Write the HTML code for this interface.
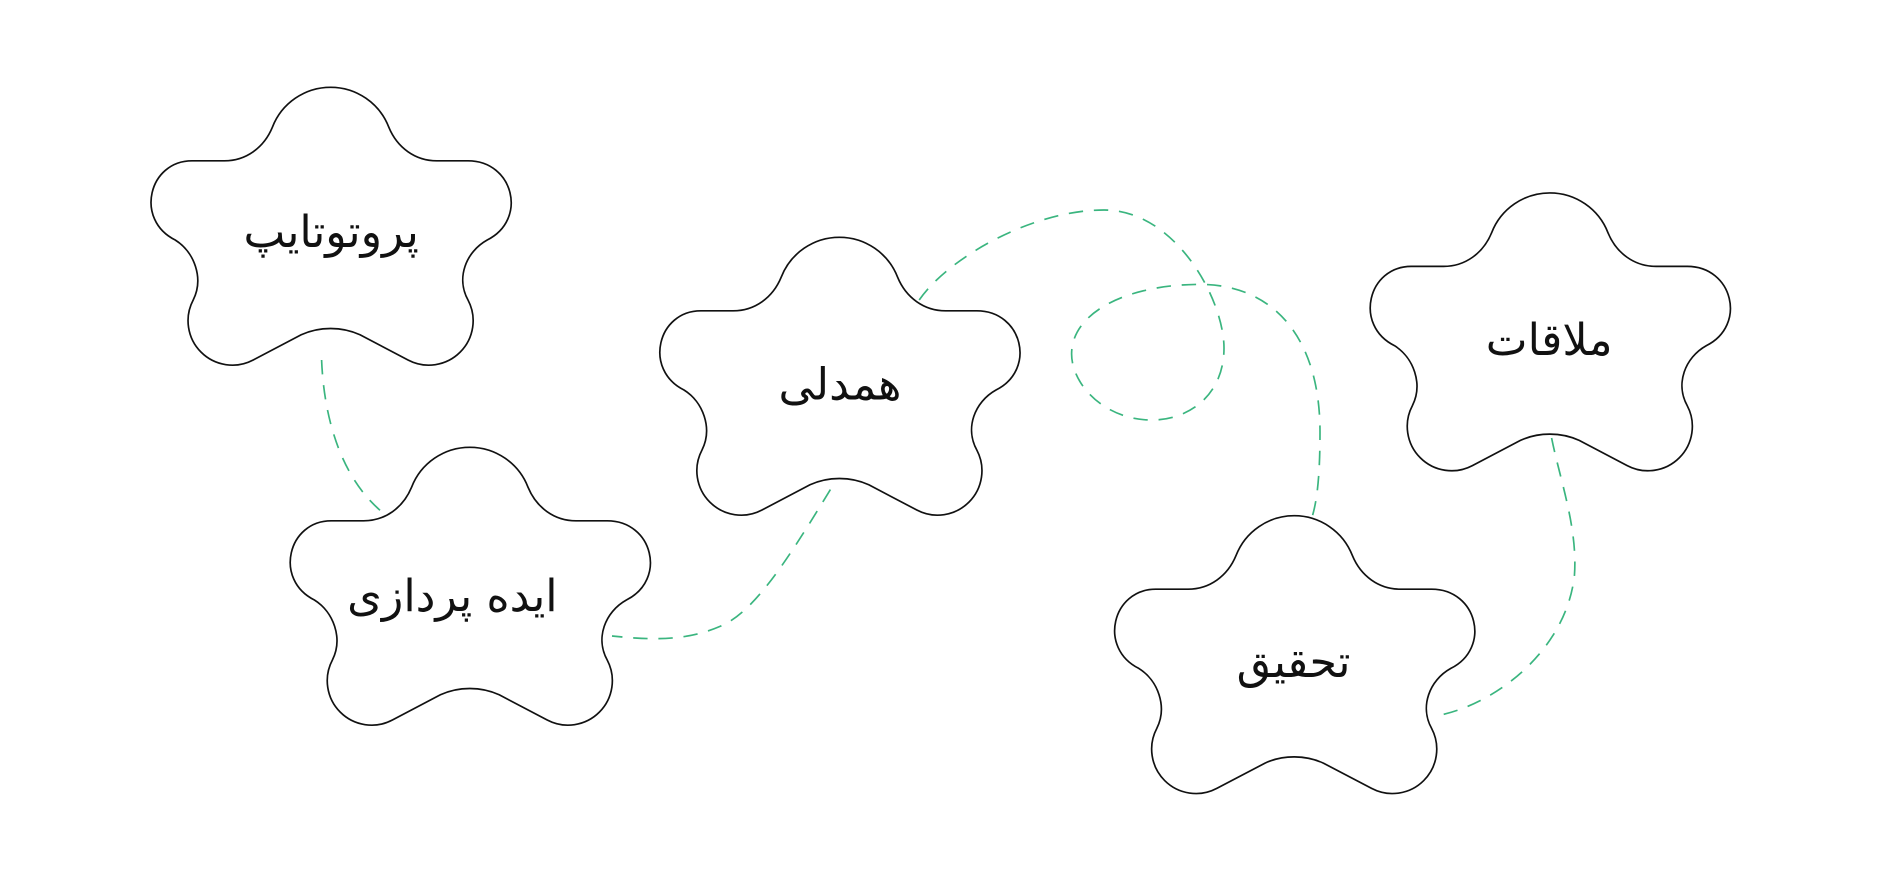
<!DOCTYPE html>
<html><head><meta charset="utf-8"><style>
html,body{margin:0;padding:0;background:#fff;}
svg{display:block;}
text{font-family:"DejaVu Sans","Liberation Sans",sans-serif;font-size:37px;fill:#111;text-anchor:middle;dominant-baseline:middle;}
</style></head><body>
<svg width="1882" height="894" viewBox="0 0 1568.33 745" xmlns="http://www.w3.org/2000/svg">
<defs>
<path id="star" d="M187 134 C205 134 220 123 227 106 A52 52 0 0 1 324 106 C331 123 346 134 364 134 L390 134 C428 134 440 183 406 200 C388 210 380 232 390 250 A37 37 0 0 1 340 300 L300 279 C285 272 266 272 251 279 L211 300 A37 37 0 0 1 161 250 C170 232 162 210 146 200 C112 183 124 134 160 134 Z" fill="#fff" stroke="#111" stroke-width="1.4"/>
</defs>
<g fill="none" stroke="#3ab57f" stroke-width="1.4" stroke-dasharray="12 9">
<path d="M268 300 C270 350 285 400 320 428"/>
<path d="M692 408 C660 460 630 510 600 522 C570 535 540 533 510 530"/>
<path d="M766 250 C790 215 860 175 920 175 C980 175 1020 250 1020 290 C1020 330 990 350 960 350 C920 350 893 320 893 295 C893 260 940 237 1000 237 C1060 237 1100 280 1100 360 C1100 400 1097 420 1093 432"/>
<path d="M1293 365 C1300 400 1315 440 1312 480 C1305 540 1250 585 1200 596"/>
</g>
<use href="#star"/>
<use href="#star" transform="translate(116,300)"/>
<use href="#star" transform="translate(424,125)"/>
<use href="#star" transform="translate(803,357)"/>
<use href="#star" transform="translate(1016,88)"/>
<text x="276" y="196">پروتوتایپ</text>
<text x="377" y="499">ایده پردازی</text>
<text x="700" y="323">همدلی</text>
<text x="1078" y="554">تحقیق</text>
<text x="1291" y="286">ملاقات</text>
</svg>
</body></html>
